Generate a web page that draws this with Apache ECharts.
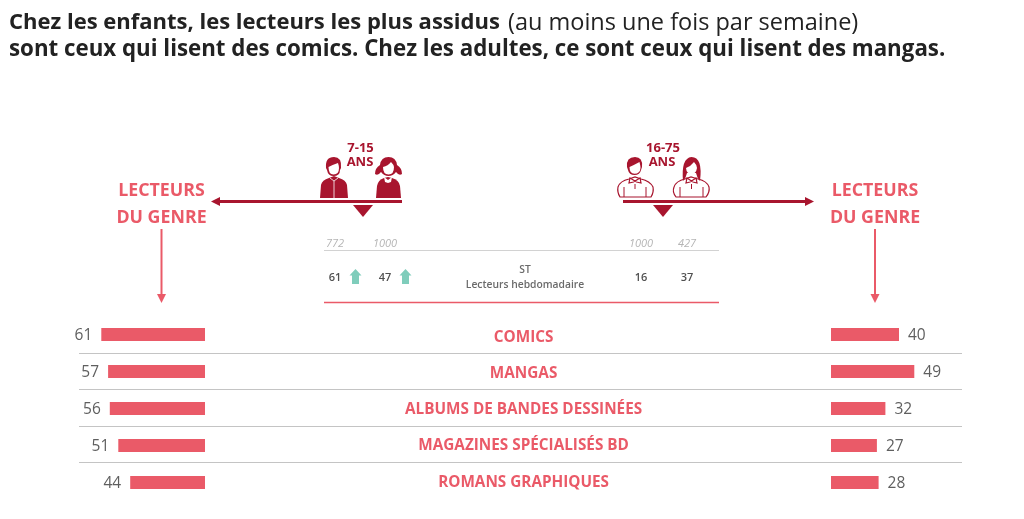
<!DOCTYPE html>
<html>
<head>
    <meta charset="utf-8">
    <title>lecteurs</title>
    <script src="https://cdn.jsdelivr.net/npm/echarts@6/dist/echarts.min.js"></script>
    <style>
        html, body { margin: 0; padding: 0; background: #fff; }
    </style>
</head>
<body>
    <div id="chart" style="width: 1024px;height:519px;"></div>
    <script type="text/javascript">
        var categories = ['COMICS', 'MANGAS', 'ALBUMS DE BANDES DESSINÉES', 'MAGAZINES SPÉCIALISÉS BD', 'ROMANS GRAPHIQUES'];
        var enfants = [61, 57, 56, 51, 44];
        var adultes = [40, 49, 32, 27, 28];
        var effectifs = ['772', '1000', '1000', '427'];
        var hebdo = ['61', '47', '16', '37'];
        var colXs = [335, 385, 641, 687];

        var FONT = '"Open Sans", sans-serif';
        var ROSE = '#ea5a68';
        var DARK = '#a8152e';
        var GREY = '#6a6a6a';

        function txt(x, y, text, size, color, weight, align, extra) {
            var style = { x: x, y: y, text: text, fontSize: size, fontFamily: FONT, fill: color, fontWeight: weight || 'normal', align: align || 'center', verticalAlign: 'middle' };
            for (var k in extra) style[k] = extra[k];
            return { type: 'text', silent: true, style: style };
        }
        function line(x1, y1, x2, y2, color, w) {
            return { type: 'line', silent: true, shape: { x1: x1, y1: y1, x2: x2, y2: y2 }, style: { stroke: color, lineWidth: w } };
        }
        function poly(points, color) {
            return { type: 'polygon', silent: true, shape: { points: points }, style: { fill: color } };
        }
        // the graphic component has no plain path type, so each icon part is registered as a shape
        var iconCount = 0;
        function icon(d, fill, stroke) {
            var name = 'icon' + (iconCount++);
            echarts.graphic.registerShape(name, echarts.graphic.extendPath(d, {}));
            return { type: name, silent: true, style: { fill: fill, stroke: stroke || null, lineWidth: stroke ? 1.2 : 0 } };
        }

        var shapes = [
            // titre
            txt(9, 23, 'Chez les enfants, les lecteurs les plus assidus', 22, '#222', 'bold', 'left'),
            txt(508, 23, '(au moins une fois par semaine)', 23.5, '#222', 'normal', 'left'),
            txt(9, 50, 'sont ceux qui lisent des comics. Chez les adultes, ce sont ceux qui lisent des mangas.', 22.3, '#222', 'bold', 'left'),
            // titres lateraux
            txt(161.5, 191, 'LECTEURS', 17.8, ROSE, 'bold'),
            txt(161.5, 217.5, 'DU GENRE', 17.8, ROSE, 'bold'),
            txt(875, 191, 'LECTEURS', 17.8, ROSE, 'bold'),
            txt(875, 217.5, 'DU GENRE', 17.8, ROSE, 'bold'),
            // fleches roses
            line(161.5, 229, 161.5, 296, ROSE, 2),
            poly([[157, 294], [166, 294], [161.5, 303]], ROSE),
            line(875, 229, 875, 296, ROSE, 2),
            poly([[870.5, 294], [879.5, 294], [875, 303]], ROSE),
            // balances
            line(218, 201.5, 402, 201.5, DARK, 3),
            poly([[220, 197], [220, 206], [211, 201.5]], DARK),
            poly([[353, 205], [373, 205], [363, 217]], DARK),
            line(623, 201.5, 808, 201.5, DARK, 3),
            poly([[805, 197], [805, 206], [814, 201.5]], DARK),
            poly([[653, 205], [673, 205], [663, 217]], DARK),
            txt(360.5, 148, '7-15', 13, DARK, 'bold'),
            txt(360, 162, 'ANS', 13, DARK, 'bold'),
            txt(663, 148, '16-75', 13, DARK, 'bold'),
            txt(662, 162, 'ANS', 13, DARK, 'bold'),
            // garcon
            icon('M320 198L321 185Q322 180 329 178L334 176L339 178Q346 180 347 185L348 198Z', DARK),
            icon('M326 168Q325 157 334 157Q342 157 341 168L340 170Q340 176 333.5 176Q328 176 327 170Z', DARK),
            icon('M328.5 167Q332 165 338 163Q339 166 339 168Q339 174.5 333.5 174.5Q328.5 174.5 328.5 167Z', '#fff'),
            line(330, 178, 334, 181, '#fff', 0.8),
            line(338, 178, 334, 181, '#fff', 0.8),
            line(334, 181, 334, 198, '#fff', 0.8),
            // fille
            icon('M376 198L377 186Q378 180 384 178L388 177L392 178Q399 180 400 186L401 198Z', DARK),
            icon('M380 165Q381 157 388.5 157Q396 157 397 165Q402 168 402 174Q399 176 396 172Q393 176 388.5 176Q384 176 381 172Q378 176 375 174Q375 168 380 165Z', DARK),
            icon('M383 167Q388 166 391 162Q394 165 394 167Q394 174.5 388.5 174.5Q383 174.5 383 167Z', '#fff'),
            icon('M384 177L388 180L392 177L391 182L388 183L385 182Z', '#fff'),
            // homme
            icon('M620 197Q617 192 618 187Q620 181 629 179L635 177L641 179Q650 181 653 187Q654 192 651 197Z', '#fff', DARK),
            icon('M627 167Q626 157 635 157Q643 157 642 167L641 170Q640 175 634.5 175Q629 175 628 170Z', DARK),
            icon('M629.5 167Q634 165 639.5 162Q640.5 166 640.5 168Q640 173.8 634.5 173.8Q629.5 173.8 629.5 167Z', '#fff'),
            icon('M630 178L635 181L640 178L641 183L636.5 182L635 181L633.5 182L629 183Z', '#fff', DARK),
            line(624, 187, 624, 197, DARK, 1),
            line(646, 187, 646, 197, DARK, 1),
            line(635, 184, 635, 189, DARK, 1),
            // femme
            icon('M676 197Q672 192 674 187Q676 181 685 179L691 177L698 179Q707 181 709 187Q710 192 706 197Z', '#fff', DARK),
            icon('M683 181Q681 158 691.5 157Q703 157 700 181Q697 178 696 173L687 173Q686 178 683 181Z', DARK),
            icon('M686 168Q691 166 694 162Q697 165 697 168Q696 174 691.5 174Q686.5 174 686 168Z', '#fff'),
            icon('M687 178L691.5 181L696 178L697 183L693 182L691.5 181L690 182L686 183Z', '#fff', DARK),
            line(680, 187, 680, 197, DARK, 1),
            line(703, 187, 703, 197, DARK, 1),
            line(691.5, 184, 691.5, 189, DARK, 1),
            // tableau
            line(324, 250.5, 719, 250.5, '#d2d2d2', 1),
            line(324, 302.5, 719, 302.5, ROSE, 1.5),
            txt(525, 270.5, 'ST', 10.3, GREY, '600'),
            txt(525, 285.5, 'Lecteurs hebdomadaire', 10.3, GREY, '600')
        ];
        colXs.forEach(function (x, i) {
            shapes.push(txt(x, 244, effectifs[i], 11, '#b5b5b5', 'normal', 'center', { fontStyle: 'italic' }));
            shapes.push(txt(x, 278, hebdo[i], 11, '#505050', '600'));
        });
        [355.5, 405.5].forEach(function (x) {
            shapes.push(poly([[x, 269], [x + 6, 275.5], [x + 3.5, 275.5], [x + 3.5, 284], [x - 3.5, 284], [x - 3.5, 275.5], [x - 6, 275.5]], '#7fcdbb'));
        });

        var myChart = echarts.init(document.getElementById('chart'));
        var hiddenCat = function (gridIndex, extra) {
            var axis = {
                type: 'category', gridIndex: gridIndex, data: categories, inverse: true,
                axisLine: { show: false }, axisTick: { show: false }, axisLabel: { show: false }, splitLine: { show: false }
            };
            for (var k in extra) axis[k] = extra[k];
            return axis;
        };
        var hiddenVal = function (gridIndex, min, max, inverse) {
            return { type: 'value', gridIndex: gridIndex, min: min, max: max, inverse: inverse, show: false, splitLine: { show: false } };
        };
        var barLabel = function (position) {
            return { show: true, position: position, distance: 9, offset: [0, 1], fontFamily: FONT, fontSize: 15.5, color: '#5f5f5f' };
        };
        var option = {
            animation: false,
            backgroundColor: '#fff',
            grid: [
                { left: 35, top: 316, width: 170, height: 185 },
                { left: 831, top: 316, width: 170, height: 185 },
                { left: 79, top: 317, width: 883, height: 181.5 }
            ],
            xAxis: [hiddenVal(0, 0, 100, true), hiddenVal(1, 0, 100, false), hiddenVal(2, 0, 1, false)],
            yAxis: [
                hiddenCat(0),
                hiddenCat(1),
                hiddenCat(2, { splitLine: { show: true, showMinLine: false, showMaxLine: false, lineStyle: { color: '#c4c4c4', width: 1.2 } } })
            ],
            series: [
                { type: 'bar', name: '7-15 ans', xAxisIndex: 0, yAxisIndex: 0, data: enfants, barWidth: 13, itemStyle: { color: ROSE }, label: barLabel('left') },
                { type: 'bar', name: '16-75 ans', xAxisIndex: 1, yAxisIndex: 1, data: adultes, barWidth: 13, itemStyle: { color: ROSE }, label: barLabel('right') },
                {
                    type: 'scatter', xAxisIndex: 2, yAxisIndex: 2, symbolSize: 0, silent: true,
                    data: categories.map(function (c) { return [0.5035, c]; }),
                    itemStyle: { opacity: 1 },
                    label: { show: true, position: 'inside', offset: [0, 2], formatter: function (p) { return p.value[1]; }, fontFamily: FONT, fontSize: 15.3, fontWeight: 'bold', color: ROSE }
                }
            ],
            graphic: { elements: shapes }
        };
        myChart.setOption(option);
    </script>
</body>
</html>
